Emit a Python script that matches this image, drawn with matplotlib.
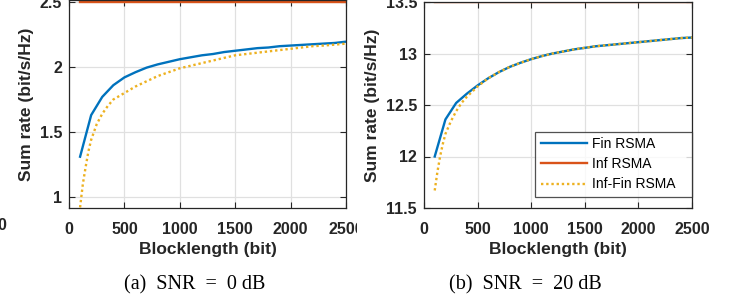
import matplotlib
matplotlib.use("Agg")
import matplotlib.pyplot as plt
from matplotlib.patches import Rectangle

# (a) SNR = 0 dB
bl_fin = [100, 200, 300, 400, 500, 600, 700, 800, 900, 1000, 1100, 1200, 1300,
          1400, 1500, 1600, 1700, 1800, 1900, 2000, 2100, 2200, 2300, 2400, 2500]
fin_a = [1.31, 1.63, 1.77, 1.86, 1.92, 1.96, 1.995, 2.02, 2.04, 2.06, 2.075, 2.09, 2.10,
         2.115, 2.125, 2.135, 2.145, 2.15, 2.16, 2.165, 2.17, 2.175, 2.18, 2.185, 2.195]
bl_dot = [100, 125, 150, 175, 200, 250, 300, 350, 400, 500, 600, 700, 800, 900, 1000,
          1100, 1200, 1300, 1400, 1500, 1600, 1700, 1800, 1900, 2000, 2100, 2200, 2300, 2400, 2500]
dot_a = [0.92, 1.10, 1.23, 1.35, 1.44, 1.56, 1.64, 1.70, 1.75, 1.80, 1.85, 1.89, 1.93, 1.96, 1.99,
         2.01, 2.03, 2.05, 2.07, 2.09, 2.10, 2.11, 2.12, 2.13, 2.14, 2.15, 2.16, 2.165, 2.172, 2.18]
inf_a = 2.5

# (b) SNR = 20 dB
fin_b = [12.0, 12.36, 12.52, 12.61, 12.69, 12.76, 12.82, 12.87, 12.91, 12.945, 12.975, 13.0, 13.02,
         13.04, 13.055, 13.07, 13.08, 13.09, 13.10, 13.11, 13.12, 13.13, 13.14, 13.15, 13.155]
dot_b = [11.67, 11.85, 12.0, 12.12, 12.22, 12.34, 12.44, 12.52, 12.58, 12.68, 12.76, 12.82, 12.87, 12.91, 12.945,
         12.975, 13.0, 13.02, 13.04, 13.055, 13.07, 13.08, 13.09, 13.10, 13.11, 13.12, 13.13, 13.14, 13.15, 13.155]
inf_b = 13.5

xticks = [0, 500, 1000, 1500, 2000, 2500]
xticklabels = ['0', '500', '1000', '1500', '2000', '2500']

c_fin = '#0072BD'
c_inf = '#D95319'
c_dot = '#EDB120'

W, H = 736, 305
fig = plt.figure(figsize=(W / 100, H / 100), dpi=100)
sans = 'Liberation Sans'
serif = 'Liberation Serif'


def style(ax, yticks, ylabels):
    ax.set_xlim(0, 2500)
    ax.set_xticks(xticks)
    ax.set_xticklabels(xticklabels)
    ax.set_yticks(yticks)
    ax.set_yticklabels(ylabels)
    ax.grid(True, color='#e0e0e0', lw=0.9)
    ax.set_axisbelow(True)
    ax.tick_params(direction='in', length=4, width=0.8, color='#262626',
                   top=True, right=True, labelsize=11.5, labelcolor='#262626')
    ax.tick_params(axis='x', pad=10)
    ax.tick_params(axis='y', pad=5)
    for lab in ax.get_xticklabels() + ax.get_yticklabels():
        lab.set_fontfamily(sans)
        lab.set_fontweight('bold')
    for s in ax.spines.values():
        s.set_color('#262626')
        s.set_linewidth(0.9)
    ax.set_xlabel('Blocklength (bit)', fontfamily=sans, fontweight='bold',
                  fontsize=12.5, color='#262626', labelpad=4)
    ax.set_ylabel('Sum rate (bit/s/Hz)', fontfamily=sans, fontweight='bold',
                  fontsize=12.5, color='#262626', labelpad=4)


# left panel
ax1 = fig.add_axes([69 / W, 97 / H, 277 / W, 208 / H])
ax1.plot(bl_fin, fin_a, color=c_fin, lw=1.7, label='Fin RSMA')
ax1.plot([bl_fin[0], bl_fin[-1]], [inf_a, inf_a], color=c_inf, lw=1.7, label='Inf RSMA')
ax1.plot(bl_dot, dot_a, color=c_dot, lw=1.7, ls=(0, (1, 1.2)), label='Inf-Fin RSMA')
ax1.set_ylim(0.9154, 2.5154)
style(ax1, [1, 1.5, 2, 2.5], ['1', '1.5', '2', '2.5'])

# cover the cut-off part like the cropped subfigure
fig.add_artist(Rectangle((357 / W, 0), 9 / W, 0.3, transform=fig.transFigure,
                         facecolor='white', edgecolor='none', zorder=5))

# right panel
ax2 = fig.add_axes([424 / W, 97 / H, 268 / W, 206 / H])
ax2.plot(bl_fin, fin_b, color=c_fin, lw=1.7, label='Fin RSMA   ')
ax2.plot([bl_fin[0], bl_fin[-1]], [inf_b, inf_b], color=c_inf, lw=1.7, label='Inf RSMA   ')
ax2.plot(bl_dot, dot_b, color=c_dot, lw=1.7, ls=(0, (1, 1.2)), label='Inf-Fin RSMA   ')
ax2.set_ylim(11.5, 13.5)
style(ax2, [11.5, 12, 12.5, 13, 13.5], ['11.5', '12', '12.5', '13', '13.5'])
leg = ax2.legend(loc='lower right', bbox_to_anchor=(1.0, 11 / 206), borderaxespad=0,
                 frameon=True, fancybox=False, prop={'family': sans, 'size': 10},
                 handlelength=3.3, borderpad=0.4, labelspacing=0.44, handletextpad=0.4)
leg.get_frame().set_edgecolor('#262626')
leg.get_frame().set_linewidth(0.9)
ax2.set_zorder(6)

# stray label from the neighbouring figure at the left edge
fig.text(6 / W, 1 - 225 / H, '0', ha='right', va='center', fontfamily=sans,
         fontweight='bold', fontsize=11.5, color='#262626')

# captions
fig.text(195 / W, 1 - 285 / H, '(a)  SNR  =  0 dB', ha='center', va='center',
         fontfamily=serif, fontsize=14.5)
fig.text(525 / W, 1 - 285 / H, '(b)  SNR  =  20 dB', ha='center', va='center',
         fontfamily=serif, fontsize=14.5)

fig.savefig('out.png', dpi=100)
